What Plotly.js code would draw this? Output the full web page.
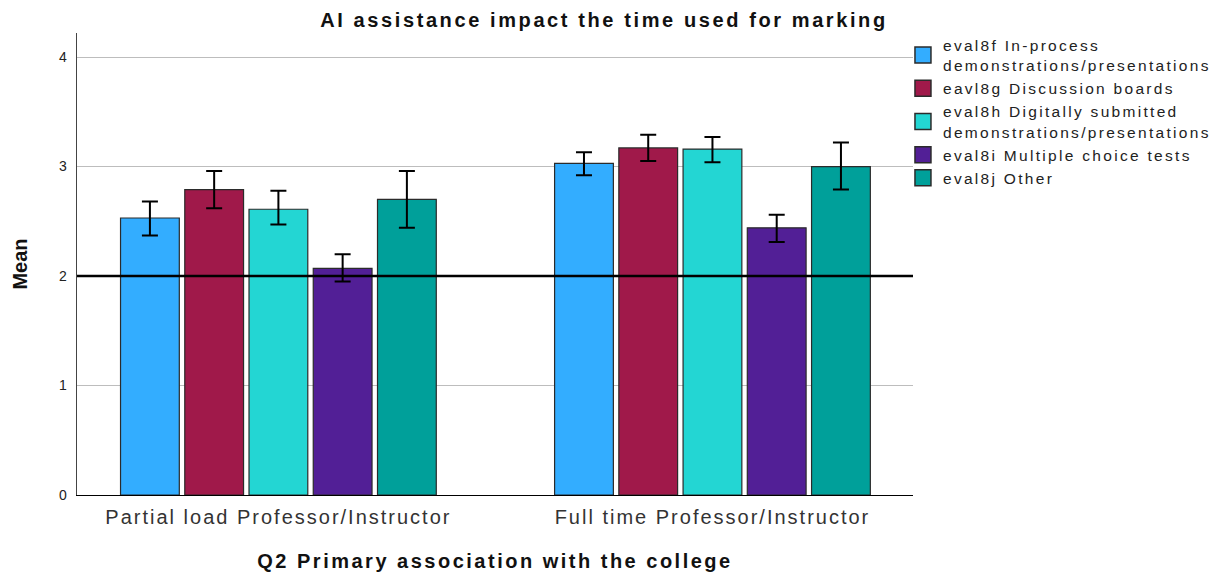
<!DOCTYPE html>
<html>
<head>
<meta charset="utf-8">
<script src="https://cdn.plot.ly/plotly-3.0.1.min.js"></script>
<style>
html,body{margin:0;padding:0;background:#fff;}
#chart{width:1222px;height:576px;}
.gtitle{letter-spacing:2.6px;}
.xtitle{letter-spacing:2.5px;}
.xtick text{letter-spacing:2px;}
.legendtext{letter-spacing:2.3px;}
</style>
</head>
<body>
<div id="chart"></div>
<script>
const categories = ["Partial load Professor/Instructor", "Full time Professor/Instructor"];
const seriesNames = [
  "eval8f In-process<br>demonstrations/presentations",
  "eavl8g Discussion boards",
  "eval8h Digitally submitted<br>demonstrations/presentations",
  "eval8i Multiple choice tests",
  "eval8j Other"
];
const seriesColors = ["#33adff", "#a0194a", "#23d6d3", "#521f96", "#00a09a"];
const means = [
  [2.53, 3.03],
  [2.79, 3.17],
  [2.61, 3.16],
  [2.07, 2.44],
  [2.70, 3.00]
];
const errUpper = [
  [2.68, 3.13],
  [2.96, 3.29],
  [2.78, 3.27],
  [2.20, 2.56],
  [2.96, 3.22]
];
const errLower = [
  [2.37, 2.92],
  [2.62, 3.05],
  [2.47, 3.04],
  [1.95, 2.31],
  [2.44, 2.79]
];
const referenceValue = 2;
const yTicks = [0, 1, 2, 3, 4];

const barTraces = seriesNames.map((name, i) => ({
  type: "bar",
  name: name,
  x: categories,
  y: means[i],
  showlegend: false,
  marker: {color: seriesColors[i], line: {color: "#2b2b2b", width: 1.2}},
  error_y: {
    type: "data",
    symmetric: false,
    array: errUpper[i].map((u, j) => u - means[i][j]),
    arrayminus: errLower[i].map((l, j) => means[i][j] - l),
    color: "#000000",
    thickness: 2,
    width: 8
  },
  hoverinfo: "y"
}));

// legend-only entries (larger square swatches like the reference)
const legendTraces = seriesNames.map((name, i) => ({
  type: "scatter",
  mode: "markers",
  name: name,
  x: [categories[0]],
  y: [null],
  showlegend: true,
  marker: {symbol: "square", size: 16, color: seriesColors[i], line: {color: "#2b2b2b", width: 1.5}},
  hoverinfo: "skip"
}));

const layout = {
  width: 1222,
  height: 576,
  paper_bgcolor: "#ffffff",
  plot_bgcolor: "#ffffff",
  margin: {l: 77, r: 309, t: 33, b: 81, autoexpand: false},
  font: {family: "Liberation Sans, Arial, sans-serif", color: "#222"},
  title: {
    text: "<b>AI assistance impact the time used for marking</b>",
    font: {size: 20, color: "#111"},
    x: 604 / 1222, xref: "container", xanchor: "center",
    y: 1 - 20 / 576, yref: "container", yanchor: "middle"
  },
  barmode: "group",
  bargap: 0.26,
  bargroupgap: 0.085,
  showlegend: true,
  legend: {
    x: 0.988, xref: "paper", xanchor: "left",
    y: 1.01, yanchor: "top",
    font: {size: 15.5, color: "#222"},
    itemwidth: 30,
    bgcolor: "rgba(0,0,0,0)"
  },
  xaxis: {
    type: "category",
    range: [-0.464, 1.462],
    showgrid: false,
    showline: true,
    linecolor: "#000",
    linewidth: 1,
    ticks: "",
    tickfont: {size: 20, color: "#333"},
    ticklabelstandoff: 4,
    title: {text: "<b>Q2 Primary association with the college</b>", font: {size: 20, color: "#111"}, standoff: 26},
    zeroline: false
  },
  yaxis: {
    range: [0, 4.22],
    tickvals: yTicks,
    ticktext: yTicks.map(String),
    showgrid: true,
    gridcolor: "#bdbdbd",
    gridwidth: 1,
    showline: true,
    linecolor: "#444",
    linewidth: 1.5,
    ticks: "",
    ticklen: 0,
    ticklabelstandoff: 6,
    tickfont: {size: 14, color: "#222"},
    title: {text: "<b>Mean</b>", font: {size: 20, color: "#111"}, standoff: 26},
    zeroline: false
  },
  shapes: [{
    type: "line", xref: "paper", x0: 0, x1: 1, yref: "y", y0: referenceValue, y1: referenceValue,
    line: {color: "#000", width: 2.5}, layer: "above"
  }]
};

Plotly.newPlot("chart", barTraces.concat(legendTraces), layout, {displayModeBar: false, staticPlot: true});
</script>
</body>
</html>
